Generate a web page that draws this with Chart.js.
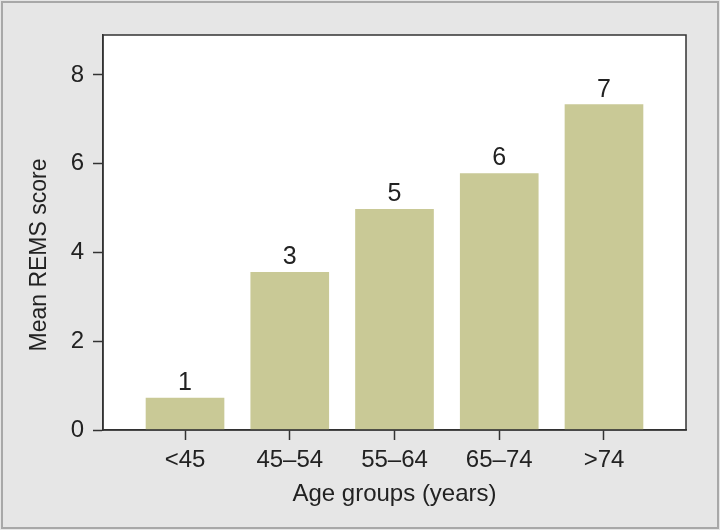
<!DOCTYPE html>
<html>
<head>
<meta charset="utf-8">
<script src="https://cdn.jsdelivr.net/npm/chart.js@4.4.1/dist/chart.umd.min.js"></script>
<style>
  html, body { margin: 0; padding: 0; background: #e6e6e6; }
  #wrap { width: 720px; height: 530px; position: relative; }
</style>
</head>
<body>
<div id="wrap"><canvas id="remsChart" width="720" height="530"></canvas></div>
<script>
const ageGroups = ['<45', '45–54', '55–64', '65–74', '>74'];
const meanScores = [0.72, 3.55, 4.97, 5.78, 7.33];
const barLabels = ['1', '3', '5', '6', '7'];
const yTicks = [0, 2, 4, 6, 8];
const yTitle = 'Mean REMS score';

const FONT = "'Liberation Sans', Arial, sans-serif";
const INK = '#222';

// grey page with thin frame + black box round the plot
const framePlugin = {
  id: 'frame',
  beforeDraw(chart) {
    const ctx = chart.ctx;
    ctx.save();
    ctx.fillStyle = '#e6e6e6';
    ctx.fillRect(0, 0, chart.width, chart.height);
    ctx.strokeStyle = '#a8a8a8';
    ctx.lineWidth = 2;
    ctx.strokeRect(2, 2, chart.width - 4, chart.height - 4);
    const a = chart.chartArea;
    ctx.fillStyle = '#ffffff';
    ctx.fillRect(a.left, a.top, a.right - a.left, a.bottom - a.top);
    ctx.restore();
  },
  afterDraw(chart) {
    const ctx = chart.ctx;
    const a = chart.chartArea;
    ctx.save();
    ctx.strokeStyle = '#333';
    ctx.lineWidth = 1.5;
    ctx.strokeRect(a.left, a.top, a.right - a.left, a.bottom - a.top);
    // y title sits a bit below the plot centre in the original
    ctx.translate(40, 255);
    ctx.rotate(-Math.PI / 2);
    ctx.fillStyle = INK;
    ctx.font = '23px ' + FONT;
    ctx.textAlign = 'center';
    ctx.textBaseline = 'middle';
    ctx.fillText(yTitle, 0, 0);
    ctx.restore();
  }
};

// numbers above the bars
const barTextPlugin = {
  id: 'barText',
  afterDatasetsDraw(chart) {
    const ctx = chart.ctx;
    const meta = chart.getDatasetMeta(0);
    ctx.save();
    ctx.fillStyle = INK;
    ctx.font = '25px ' + FONT;
    ctx.textAlign = 'center';
    ctx.textBaseline = 'alphabetic';
    meta.data.forEach((bar, i) => {
      ctx.fillText(barLabels[i], bar.x, bar.y - 8);
    });
    ctx.restore();
  }
};

new Chart(document.getElementById('remsChart'), {
  type: 'bar',
  data: {
    datasets: [{
      data: meanScores.map((v, i) => ({ x: i, y: v })),
      backgroundColor: '#c9c996',
      borderWidth: 0,
      barThickness: 78
    }]
  },
  options: {
    responsive: false,
    animation: false,
    events: [],
    layout: { padding: { top: 35, right: 34, left: 0, bottom: 0 } },
    plugins: { legend: { display: false }, tooltip: { enabled: false } },
    scales: {
      x: {
        type: 'linear',
        offset: false,
        min: -0.783,
        max: 4.783,
        afterBuildTicks: s => { s.ticks = ageGroups.map((_, i) => ({ value: i })); },
        afterFit: s => { s.height = 100; },
        grid: { offset: false, drawOnChartArea: false, drawTicks: true, tickLength: 10, tickColor: '#333', tickWidth: 1.5 },
        border: { display: true, color: '#333', width: 1.5 },
        ticks: {
          color: INK,
          font: { family: FONT, size: 24 },
          padding: 6,
          maxRotation: 0,
          autoSkip: false,
          callback: v => ageGroups[v]
        },
        title: {
          display: true,
          text: 'Age groups (years)',
          color: INK,
          font: { family: FONT, size: 24 },
          padding: { top: 0, bottom: 21 }
        }
      },
      y: {
        min: 0,
        max: 8.9,
        afterBuildTicks: s => { s.ticks = yTicks.map(v => ({ value: v })); },
        afterFit: s => { s.width = 103; },
        grid: { drawOnChartArea: false, drawTicks: true, tickLength: 10, tickColor: '#333', tickWidth: 1.5 },
        border: { display: true, color: '#333', width: 1.5 },
        ticks: {
          color: INK,
          font: { family: FONT, size: 24 },
          padding: 9
        }
      }
    }
  },
  plugins: [framePlugin, barTextPlugin]
});
</script>
</body>
</html>
